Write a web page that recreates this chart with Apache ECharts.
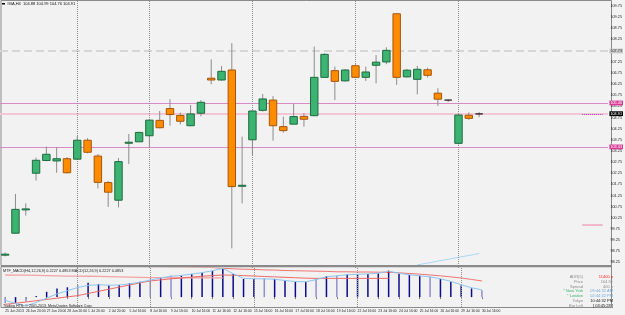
<!DOCTYPE html>
<html lang="en">

<head>
    <meta charset="UTF-8">
    <title>#BA,H4</title>
    <style>
        html, body { margin: 0; padding: 0; background: #f3f3f3; }
    </style>
</head>

<body>
    <div id="main" style="width: 625px;height:315px;"></div>
    <script src="https://cdn.jsdelivr.net/npm/echarts@6/dist/echarts.min.js"></script>
    <script>
        // bar times (H4, two bars per session)
        var dates = ['25 Jun 2013', '26 Jun 16:00', '26 Jun 20:00', '27 Jun 16:00', '27 Jun 20:00', '28 Jun 16:00', '28 Jun 20:00',
            '1 Jul 16:00', '1 Jul 20:00', '2 Jul 16:00', '2 Jul 20:00', '3 Jul 16:00', '5 Jul 16:00', '5 Jul 20:00',
            '8 Jul 16:00', '8 Jul 20:00', '9 Jul 16:00', '9 Jul 20:00', '10 Jul 16:00', '10 Jul 20:00', '11 Jul 16:00', '11 Jul 20:00', '12 Jul 16:00', '12 Jul 20:00',
            '15 Jul 16:00', '15 Jul 20:00', '16 Jul 16:00', '16 Jul 20:00', '17 Jul 16:00', '17 Jul 20:00', '18 Jul 16:00', '18 Jul 20:00', '19 Jul 16:00', '19 Jul 20:00',
            '22 Jul 16:00', '22 Jul 20:00', '23 Jul 16:00', '23 Jul 20:00', '24 Jul 16:00', '24 Jul 20:00', '25 Jul 16:00', '25 Jul 20:00', '26 Jul 16:00', '26 Jul 20:00',
            '29 Jul 16:00', '29 Jul 20:00', '30 Jul 16:00'];
        var emptySlots = 12;

        var opens = [98.60, 99.56, 100.61, 102.25, 102.82, 102.80, 102.90, 102.88, 103.73, 103.02, 101.83, 101.04, 103.60, 103.66, 103.93, 104.62,
            105.15, 104.84, 104.38, 104.94, 106.51, 106.43, 106.88, 101.67, 103.75, 105.07, 105.53, 104.34, 104.45, 104.80, 104.83, 106.55,
            106.85, 106.39, 107.07, 106.55, 107.09, 107.24, 109.40, 106.57, 106.46, 106.89, 105.84, 105.53, 103.59, 104.85, 104.91];
        var highs = [98.70, 101.32, 100.90, 102.95, 103.44, 103.41, 102.97, 103.92, 103.82, 103.11, 101.90, 102.93, 104.01, 104.11, 104.66, 105.04,
            105.57, 104.97, 105.31, 105.53, 107.36, 107.06, 108.08, 103.89, 105.06, 105.80, 105.71, 104.79, 105.36, 104.94, 107.93, 107.63,
            107.03, 106.92, 107.14, 107.03, 107.55, 107.90, 109.42, 106.93, 107.06, 106.98, 106.06, 105.55, 104.89, 104.98, 104.99];
        var lows = [98.52, 99.55, 100.35, 101.92, 102.79, 102.27, 102.25, 102.87, 103.14, 101.57, 100.74, 100.72, 102.66, 103.65, 103.41, 104.26,
            104.38, 104.44, 104.37, 104.80, 106.24, 106.40, 98.88, 100.90, 103.02, 105.01, 103.71, 104.07, 104.44, 104.34, 104.82, 106.54,
            105.53, 106.36, 106.54, 106.39, 106.28, 107.14, 106.21, 106.54, 105.79, 106.54, 105.27, 105.44, 103.54, 104.64, 104.76];
        var closes = [98.62, 100.63, 100.65, 102.83, 103.10, 102.90, 102.27, 103.73, 103.19, 101.84, 101.40, 102.77, 103.64, 104.08, 104.63, 104.29,
            104.88, 104.58, 104.91, 105.43, 106.43, 106.82, 101.65, 101.71, 105.04, 105.58, 104.38, 104.16, 104.79, 104.67, 106.55, 107.58,
            106.37, 106.88, 106.55, 106.79, 107.23, 107.76, 106.55, 106.87, 106.91, 106.64, 105.57, 105.53, 104.86, 104.71, 104.91];

        // moving average just entering at the bottom of the price window
        var maLine = [null, null, null, null, null, null, null, null, null, null, null, null, null, null, null, null, null, null, null, null,
            null, null, null, null, null, null, null, null, null, null, null, null, null, null, null, null, null, null, null, null,
            98.14, 98.22, 98.31, 98.39, 98.48, 98.56, 98.65];

        // indicator window
        var histValues = [-0.29, -0.27, -0.22, 0.05, 0.25, 0.41, 0.46, 0.57, 0.68, 0.62, 0.54, 0.57, 0.65, 0.72, 0.84, 0.93,
            1.01, 1.01, 1.09, 1.15, 1.23, 1.32, 1.09, 0.85, 0.85, 0.88, 0.85, 0.77, 0.72, 0.72, 0.85, 0.99,
            1.01, 1.07, 1.07, 1.09, 1.12, 1.23, 1.09, 1.04, 1.01, 0.96, 0.85, 0.72, 0.54, 0.41, 0.32];
        var blueLine = [-0.15, -0.30, -0.42, -0.25, -0.05, 0.15, 0.30, 0.45, 0.55, 0.58, 0.56, 0.57, 0.62, 0.70, 0.80, 0.90,
            0.98, 1.02, 1.08, 1.15, 1.24, 1.35, 1.10, 0.88, 0.86, 0.86, 0.84, 0.78, 0.73, 0.72, 0.82, 0.96,
            1.00, 1.05, 1.07, 1.09, 1.12, 1.22, 1.12, 1.05, 1.00, 0.95, 0.86, 0.74, 0.58, 0.44, 0.34];
        var redUpper = [1.50, 1.50, 1.49, 1.49, 1.48, 1.48, 1.47, 1.47, 1.46, 1.46, 1.45, 1.45, 1.44, 1.44, 1.43, 1.43,
            1.42, 1.42, 1.41, 1.40, 1.39, 1.35, 1.33, 1.31, 1.30, 1.28, 1.27, 1.25, 1.24, 1.23, 1.22, 1.21,
            1.19, 1.19, 1.18, 1.18, 1.17, 1.17, 1.14, 1.11, 1.08, 1.04, 1.00, 0.95, 0.90, 0.83, 0.76];
        var salmonLine = [1.04, 1.03, 1.03, 1.02, 1.01, 1.00, 0.99, 0.99, 0.98, 0.97, 0.96, 0.95, 0.94, 0.93, 0.92, 0.92,
            0.91, 0.91, 0.91, 0.90, 0.90, 0.90];
        var redRise = [-0.34, -0.29, -0.23, -0.17, -0.11, -0.05, 0.01, 0.07, 0.17, 0.27, 0.37, 0.47, 0.57, 0.67, 0.76, 0.81,
            0.86, 0.90, 0.94, 0.98, 1.01, 1.04, 1.03, 1.01, 0.99, 0.97, 0.95, 0.93, 0.91, 0.89, 0.88, 0.88,
            0.88, 0.88, 0.88, 0.88, 0.88, 0.88];
        var subMax = 1.3681;
        var subMin = -0.4653;

        // levels
        var levelUpper = 105.40;
        var levelBid = 104.92;
        var levelLower = 103.43;
        var levelDash = 107.73;
        var levelShort = 99.93;
        var lastPrice = 104.91;
        var weekStarts = [7, 14, 24, 34, 44];

        var infoLabels = ['ADR(5)', 'Price', 'Spread', '* New York', '* London', 'Tokyo', 'Bar Left'];
        var infoValues = ['11400 p', '104.91', '400 p', '09:44:32 AM', '02:44:32 PM', '10:44:32 PM', '[ 03:45:28 ]'];

        var cats = dates.slice();
        for (var k = 0; k < emptySlots; k++) cats.push('');

        var candleData = opens.map(function (o, i) {
            return [i, o, closes[i], lows[i], highs[i]];
        });

        var FONT = 'Liberation Sans';

        function renderCandle(params, api) {
            var i = api.value(0);
            var o = api.value(1), c = api.value(2), lo = api.value(3), hi = api.value(4);
            var top = api.coord([i, Math.max(o, c)]);
            var bot = api.coord([i, Math.min(o, c)]);
            var pHi = api.coord([i, hi]);
            var pLo = api.coord([i, lo]);
            var w = api.size([1, 0])[0] * 0.72;
            var x = top[0];
            var kids = [{
                type: 'line',
                shape: { x1: x, y1: pHi[1], x2: x, y2: pLo[1] },
                style: { stroke: '#8c8c8c', lineWidth: 1 }
            }];
            if (o === c) {
                kids.push({
                    type: 'line',
                    shape: { x1: x - w / 2, y1: top[1], x2: x + w / 2, y2: top[1] },
                    style: { stroke: '#111', lineWidth: 1.2 }
                });
            } else {
                var up = c > o;
                kids.push({
                    type: 'rect',
                    shape: { x: x - w / 2, y: top[1], width: w, height: Math.max(bot[1] - top[1], 1) },
                    style: {
                        fill: up ? '#3cb371' : '#ff8c00',
                        stroke: up ? '#1d6b3f' : '#a5560a',
                        lineWidth: 1
                    }
                });
            }
            return { type: 'group', children: kids };
        }

        function boxLabel(text, bg, fg) {
            return {
                show: true, position: 'end', distance: 1.5, formatter: text,
                backgroundColor: bg, color: fg, fontSize: 3.8, fontFamily: FONT,
                padding: [0.5, 1, 0.3, 1]
            };
        }

        var lightBars = [0, 2, 7, 14, 16, 25, 30, 32, 41, 46];
        var labelIdx = function (i) { return i % 2 === 0 && i < dates.length; };
        var sepStyle = { color: '#8e8e8e', width: 1, type: 'dotted' };
        var levelStyle = { color: '#d98cc4', width: 1.2, type: 'solid', opacity: 1 };

        var myChart = echarts.init(document.getElementById('main'));

        var graphics = [
            // thick pane separator
            { type: 'rect', shape: { x: 1, y: 265, width: 611, height: 2.2 }, style: { fill: '#8a8a8a' }, z: 90 },
            { type: 'rect', shape: { x: 2, y: 3, width: 3, height: 1.5 }, style: { fill: '#000' }, z: 100 },
            { type: 'text', x: 7, y: 1.8, z: 100, style: { text: '#BA,H4  104.88 104.99 104.76 104.91', fill: '#111', font: '4px ' + FONT } },
            { type: 'text', x: 3, y: 268.8, z: 100, style: { text: 'MTF_MACD(H4,12,26,9) 0.2227 0.4853 MACD(12,26,9) 0.2227 0.4853', fill: '#222', font: '3.8px ' + FONT } },
            { type: 'text', x: 3, y: 303.8, z: 100, style: { text: 'Trading HTS, © 2001-2013, MetaQuotes Software Corp.', fill: '#222', font: '3.6px ' + FONT } }
        ];
        infoLabels.forEach(function (t, r) {
            var y = 275 + r * 4.75;
            var lc = t.charAt(0) === '*' ? '#3cb371' : '#8a8a8a';
            var vc = '#8a8a8a';
            if (r === 0) vc = '#ff2020';
            if (r === 3 || r === 4) vc = '#6fa8dc';
            if (r >= 5) vc = '#111';
            graphics.push({ type: 'text', x: 583, y: y, z: 100, style: { text: t, fill: lc, font: '4px ' + FONT, textAlign: 'right' } });
            graphics.push({ type: 'text', x: 613, y: y, z: 100, style: { text: infoValues[r], fill: vc, font: '4px ' + FONT, textAlign: 'right' } });
        });

        option = {
            backgroundColor: '#f3f3f3',
            animation: false,
            grid: [
                { left: -3.945, width: 615.4, top: 0.4, height: 267.6 },
                { left: -3.945, width: 615.4, top: 268, height: 39 },
                { left: 1, top: 0.5, width: 610.5, height: 265, show: true, backgroundColor: '#f2f2f2', borderColor: '#8a8a8a', borderWidth: 1 },
                { left: 1, top: 266.5, width: 610.5, height: 41, show: true, backgroundColor: '#f2f2f2', borderColor: '#8a8a8a', borderWidth: 1 }
            ],
            xAxis: [
                { type: 'category', gridIndex: 0, data: cats, show: false },
                {
                    type: 'category', gridIndex: 1, data: cats,
                    axisLine: { show: false },
                    axisTick: { show: true, alignWithLabel: true, interval: labelIdx, length: 2, lineStyle: { color: '#555', width: 0.8 } },
                    axisLabel: { interval: labelIdx, align: 'left', margin: 3, fontSize: 3.4, fontFamily: FONT, color: '#222' }
                }
            ],
            yAxis: [
                {
                    type: 'value', gridIndex: 0, position: 'right', min: 98, max: 110, interval: 0.25,
                    axisLine: { show: false }, axisTick: { show: false }, splitLine: { show: false },
                    axisLabel: {
                        margin: 2.5, fontSize: 3.8, fontFamily: FONT, color: '#222',
                        formatter: function (v) { return Math.round(v * 4) % 2 === 1 ? v.toFixed(2) : ''; }
                    }
                },
                { type: 'value', gridIndex: 1, min: subMin, max: subMax, show: false }
            ],
            graphic: graphics,
            series: [
                {
                    type: 'custom', xAxisIndex: 0, yAxisIndex: 0,
                    renderItem: renderCandle,
                    encode: { x: 0, y: [1, 2, 3, 4] },
                    data: candleData, z: 5
                },
                {
                    type: 'line', xAxisIndex: 0, yAxisIndex: 0, data: maLine,
                    symbol: 'none', lineStyle: { color: '#a9d8f2', width: 1 }, z: 3,
                    markLine: {
                        silent: true, symbol: 'none', animation: false,
                        data: [
                            { yAxis: levelDash, lineStyle: { color: '#d6d6d6', width: 2, type: [8, 4] }, label: boxLabel('107.73', '#c9c9c9', '#333') },
                            { yAxis: levelUpper, lineStyle: levelStyle, label: boxLabel('105.40', '#d93a95', '#fff') },
                            { yAxis: levelBid, lineStyle: { color: '#f1c6d6', width: 2, type: 'solid' }, label: boxLabel(lastPrice.toFixed(2), '#000', '#fff') },
                            { yAxis: levelLower, lineStyle: levelStyle, label: boxLabel('103.43', '#d93a95', '#fff') },
                            [{ coord: [56, lastPrice], lineStyle: { color: '#b03cb0', width: 1, type: 'dotted' }, label: { show: false } }, { coord: [58, lastPrice] }],
                            [{ coord: [56, levelShort], lineStyle: { color: '#f0b8c8', width: 2, type: 'solid' }, label: { show: false } }, { coord: [58, levelShort] }]
                        ].concat(weekStarts.map(function (w) {
                            return { xAxis: w, lineStyle: sepStyle, label: { show: false } };
                        }))
                    }
                },
                {
                    type: 'bar', xAxisIndex: 1, yAxisIndex: 1, data: histValues, barWidth: 1.5, z: 3,
                    itemStyle: {
                        color: function (p) { return lightBars.indexOf(p.dataIndex) >= 0 ? '#8e8ed0' : '#0c0c8a'; }
                    },
                    markLine: {
                        silent: true, symbol: 'none', animation: false,
                        data: [
                            { yAxis: subMax, lineStyle: { opacity: 0 }, label: { show: true, position: 'end', distance: 2, formatter: '1.3681', fontSize: 3.6, fontFamily: FONT, color: '#222' } },
                            { yAxis: subMin, lineStyle: { opacity: 0 }, label: { show: true, position: 'end', distance: 2, formatter: '-0.4653', fontSize: 3.6, fontFamily: FONT, color: '#222' } }
                        ].concat(weekStarts.map(function (w) {
                            return { xAxis: w, lineStyle: sepStyle, label: { show: false } };
                        }))
                    }
                },
                { type: 'line', xAxisIndex: 1, yAxisIndex: 1, data: salmonLine, symbol: 'none', lineStyle: { color: '#f4a3a3', width: 1.3 }, z: 4 },
                { type: 'line', xAxisIndex: 1, yAxisIndex: 1, data: redRise, symbol: 'none', lineStyle: { color: '#f06a6a', width: 1 }, z: 4 },
                { type: 'line', xAxisIndex: 1, yAxisIndex: 1, data: redUpper, symbol: 'none', lineStyle: { color: '#f07474', width: 1 }, z: 4 },
                {
                    type: 'line', xAxisIndex: 1, yAxisIndex: 1, data: blueLine, symbol: 'none',
                    lineStyle: { color: '#8cc6ee', width: 1 }, z: 5,
                    markPoint: {
                        symbol: 'triangle', symbolSize: 3, itemStyle: { color: '#e02020' }, label: { show: false },
                        data: [{ coord: [37, blueLine[37]] }]
                    }
                }
            ]
        };
        myChart.setOption(option);
    </script>
</body>

</html>
